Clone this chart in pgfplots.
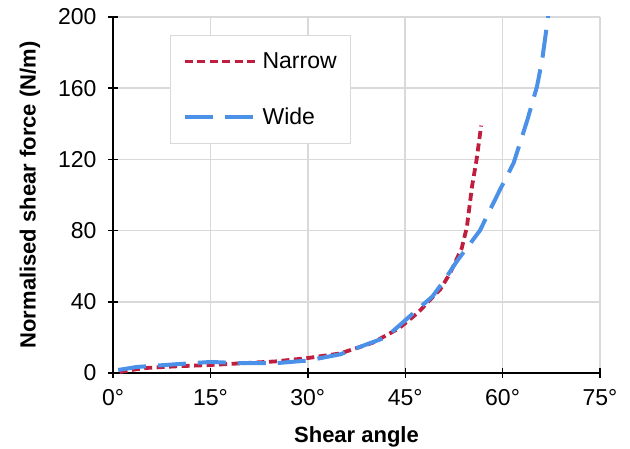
\documentclass[border=0pt]{standalone}
\usepackage{fontspec}
\setmainfont{Liberation Sans}
\usepackage{pgfplots}
\pgfplotsset{compat=1.18}

\definecolor{narrowred}{RGB}{192,30,62}
\definecolor{wideblue}{RGB}{76,145,232}
\definecolor{gridgray}{RGB}{217,217,217}

\begin{document}
\begin{tikzpicture}
  \begin{axis}[
    at={(0,0)}, anchor=south west,
    scale only axis,
    width=487bp, height=356bp,
    xmin=0, xmax=75, ymin=0, ymax=200,
    xtick={0,15,30,45,60,75},
    ytick={0,40,80,120,160,200},
    xticklabel={\pgfmathprintnumber{\tick}°},
    /pgf/number format/assume math mode=true,
    axis lines=left,
    axis line style={-, black, line width=1.6bp},
    tick align=center,
    major tick length=10bp,
    tick style={black, line width=1.4bp},
    grid=major,
    major grid style={gridgray, line width=1.6bp},
    ticklabel style={font=\fontsize{23bp}{26bp}\selectfont},
    xticklabel style={yshift=-8bp},
    yticklabel style={xshift=-8bp},
    xlabel={\textbf{Shear angle}},
    ylabel={\textbf{Normalised shear force (N/m)}},
    label style={font=\fontsize{22bp}{26bp}\selectfont},
    xlabel style={yshift=-14bp},
    ylabel style={yshift=11bp},
    legend style={at={(0.117,0.949)}, anchor=north west, draw=gridgray,
      line width=1.2bp, font=\fontsize{23bp}{26bp}\selectfont,
      row sep=34bp, inner xsep=12bp, inner ysep=15bp, cells={anchor=west}},
    legend image code/.code={\draw[#1] (2bp,0bp) -- (72bp,0bp);
      \path (76bp,0bp);},
  ]
    \addplot[narrowred, line width=3.8bp, dash pattern=on 8bp off 4.5bp] coordinates {
      (1,0.5) (3,1.8) (5,2.8) (10,3.8) (15,4.5) (20,5.5) (25,6.5) (30,8.4)
      (35,11) (40,17) (44,25) (47,34) (48.8,41) (50.4,47) (51.9,56)
      (53.7,70) (54.5,82) (55.3,105) (56.0,120) (56.7,139)
    };
    \addlegendentry{Narrow}
    \addplot[wideblue, line width=4bp, dash pattern=on 28bp off 12bp] coordinates {
      (0.8,1.7) (3.7,3.4) (5.7,3.9) (10,5) (15,6.2) (20,5.5) (25,5.5) (30,7)
      (35,10.5) (39,16) (42,20) (44.2,27) (47.3,37) (49.2,43) (51,52)
      (53,63) (56.5,80) (59.6,103) (61.7,118) (63.8,142) (65.3,161)
      (66.1,176) (67,200) (67.3,210)
    };
    \addlegendentry{Wide}
  \end{axis}
  \pgfresetboundingbox
  \path (-113bp,-76bp) rectangle (517bp,373bp);
\end{tikzpicture}
\end{document}
